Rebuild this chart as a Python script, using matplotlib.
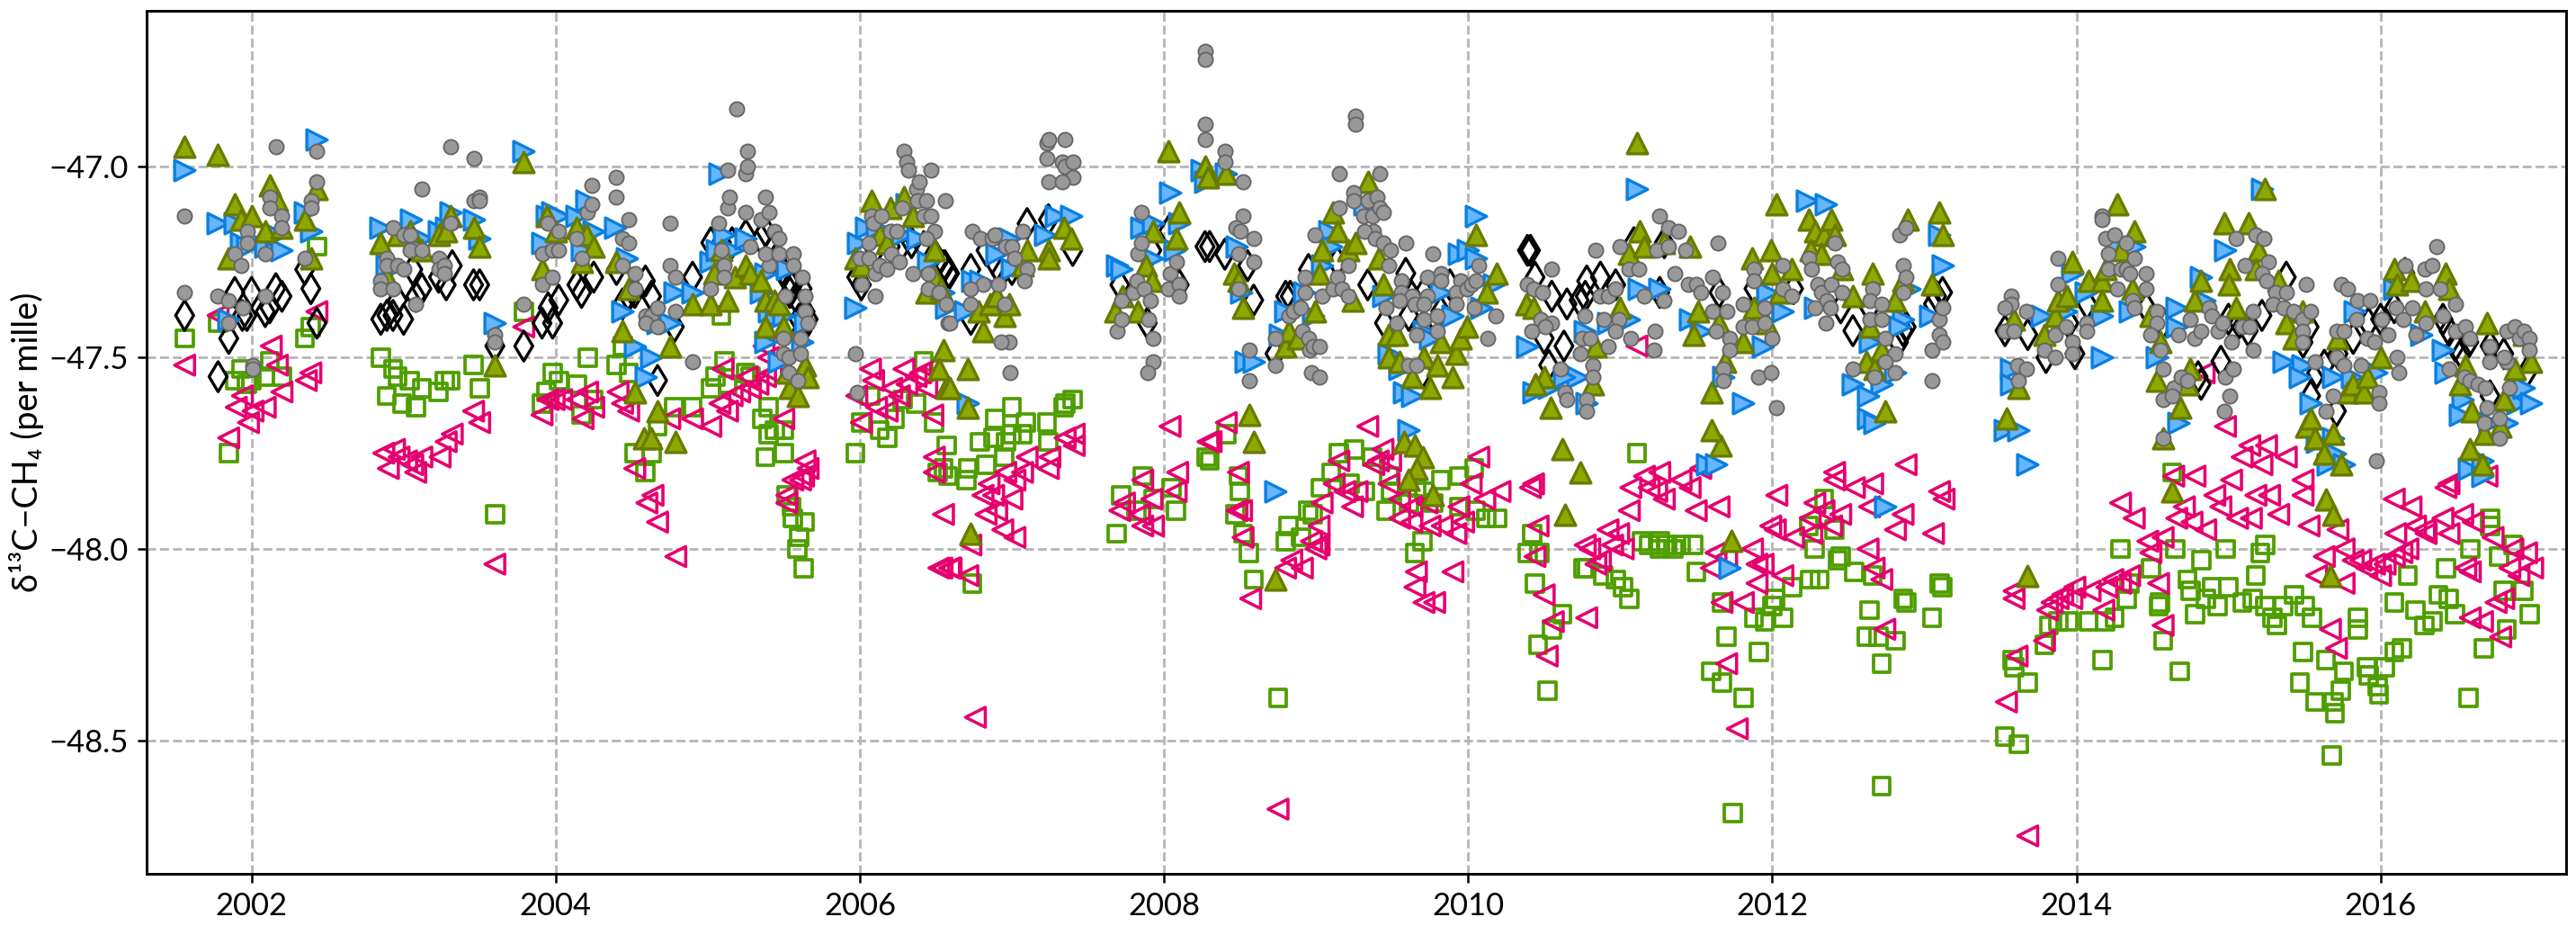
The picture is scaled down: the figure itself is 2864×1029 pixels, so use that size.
import matplotlib
matplotlib.use("Agg")
import matplotlib.pyplot as plt

# (decimal year, delta13C per mille)
green_squares = [
(2001.56,-47.45),(2001.78,-47.41),(2001.85,-47.75),(2001.93,-47.53),(2001.89,-47.56),(2001.97,-47.57),(2002.0,-47.56),(2002.09,-47.55),(2002.12,-47.51),(2002.2,-47.55),(2002.35,-47.45),(2002.39,-47.42),(2002.43,-47.21),
(2002.85,-47.50),(2002.93,-47.53),(2002.96,-47.55),(2002.89,-47.60),(2002.99,-47.62),(2003.04,-47.56),(2003.08,-47.63),(2003.12,-47.58),(2003.23,-47.59),(2003.27,-47.56),(2003.31,-47.56),(2003.46,-47.52),(2003.50,-47.58),(2003.6,-47.91),(2003.79,-47.38),
(2003.91,-47.62),(2003.94,-47.59),(2003.98,-47.54),(2004.02,-47.56),(2004.14,-47.57),(2004.17,-47.65),(2004.25,-47.61),(2004.21,-47.50),(2004.4,-47.52),(2004.44,-47.47),(2004.48,-47.54),(2004.52,-47.75),(2004.63,-47.75),(2004.59,-47.80),(2004.67,-47.68),(2004.78,-47.63),(2004.9,-47.63),(2005.02,-47.58),(2005.09,-47.39),(2005.11,-47.51),(2005.05,-47.55),(2005.13,-47.57),(2005.25,-47.54),(2005.28,-47.55),(2005.36,-47.66),(2005.4,-47.63),(2005.4,-47.70),(2005.44,-47.69),(2005.5,-47.69),(2005.38,-47.76),(2005.5,-47.75),(2005.52,-47.86),(2005.55,-47.89),(2005.56,-47.92),(2005.64,-47.93),(2005.6,-47.97),(2005.59,-48.0),(2005.63,-48.05),
(2005.97,-47.75),(2006.01,-47.67),(2006.07,-47.60),(2006.13,-47.69),(2006.18,-47.71),(2006.23,-47.66),(2006.28,-47.61),(2006.37,-47.62),(2006.42,-47.51),(2006.49,-47.67),(2006.57,-47.73),(2006.55,-47.79),(2006.51,-47.8),(2006.58,-47.81),(2006.71,-47.79),(2006.7,-47.82),(2006.83,-47.78),(2006.74,-48.09),(2006.79,-47.72),(2006.88,-47.71),(2006.89,-47.66),(2007.0,-47.63),(2006.96,-47.72),(2006.95,-47.76),(2007.0,-47.70),(2007.07,-47.70),(2007.09,-47.67),(2007.23,-47.67),(2007.24,-47.72),(2007.34,-47.63),(2007.35,-47.62),(2007.4,-47.61),
(2007.72,-47.86),(2007.69,-47.96),(2007.82,-47.90),(2007.86,-47.81),(2007.93,-47.87),(2008.05,-47.84),(2008.08,-47.90),(2008.28,-47.76),(2008.3,-47.77),(2008.41,-47.70),(2008.49,-47.81),(2008.5,-47.85),(2008.47,-47.91),(2008.52,-47.96),(2008.56,-48.01),(2008.59,-48.08),(2008.75,-48.39),(2008.82,-47.94),(2008.8,-47.98),(2008.9,-47.97),(2008.95,-47.90),(2008.98,-47.91),(2009.03,-47.84),(2009.15,-47.75),(2009.1,-47.80),(2009.25,-47.74),(2009.22,-47.83),(2009.32,-47.85),(2009.37,-47.76),(2009.48,-47.81),(2009.49,-47.85),(2009.46,-47.90),(2009.61,-47.88),(2009.66,-47.84),(2009.71,-47.85),(2009.82,-47.82),(2009.7,-47.98),(2009.65,-48.01),(2009.77,-47.88),(2009.94,-47.81),(2009.94,-47.89),(2010.04,-47.79),(2010.12,-47.92),(2010.19,-47.92),(2010.05,-47.9),
(2010.42,-47.96),(2010.39,-48.01),(2010.47,-48.01),(2010.44,-48.09),(2010.62,-48.17),(2010.55,-48.21),(2010.52,-48.37),(2010.46,-48.25),(2010.76,-48.05),(2010.78,-48.05),(2010.89,-48.07),(2010.97,-48.08),(2011.02,-48.10),(2011.06,-48.13),(2011.11,-47.75),(2011.14,-47.98),(2011.19,-47.99),(2011.26,-47.98),(2011.26,-48.0),(2011.31,-47.99),(2011.40,-47.99),(2011.48,-47.99),(2011.5,-48.06),(2011.35,-48.0),
(2011.7,-48.23),(2011.67,-48.14),(2011.6,-48.32),(2011.67,-48.35),(2011.81,-48.39),(2011.88,-48.18),(2011.91,-48.27),(2011.95,-48.19),(2012.0,-48.15),(2012.07,-48.18),(2012.02,-48.13),(2012.13,-48.10),(2012.25,-48.08),(2012.31,-48.08),(2012.28,-48.0),(2012.24,-47.94),(2012.34,-47.87),(2012.41,-47.95),(2012.45,-48.02),(2012.43,-48.03),(2012.54,-48.06),(2012.66,-48.07),(2012.64,-48.16),(2012.62,-48.23),(2012.7,-48.23),(2012.81,-48.24),(2012.72,-48.30),(2012.72,-48.62),(2012.86,-48.13),(2012.88,-48.14),(2013.05,-48.18),(2013.1,-48.09),(2013.12,-48.10),(2011.74,-48.69),
(2013.58,-48.29),(2013.59,-48.31),(2013.53,-48.49),(2013.68,-48.35),(2013.62,-48.51),(2013.79,-48.25),(2013.82,-48.2),(2013.88,-48.19),(2013.95,-48.19),(2014.08,-48.19),(2014.19,-48.19),(2014.25,-48.18),(2014.17,-48.29),(2014.29,-48.0),(2014.33,-48.13),(2014.35,-48.09),(2014.49,-48.05),(2014.54,-48.15),(2014.55,-48.14),(2014.57,-48.24),(2014.63,-47.8),(2014.65,-48.0),(2014.68,-48.32),(2014.73,-48.08),(2014.75,-48.11),(2014.78,-48.17),(2014.82,-48.03),(2014.85,-48.13),(2014.89,-48.1),(2014.93,-48.15),(2014.98,-48.0),(2015.0,-48.1),(2015.09,-48.14),(2015.16,-48.13),(2015.18,-48.07),(2015.21,-48.01),(2015.24,-47.99),(2015.24,-48.15),(2015.29,-48.18),(2015.32,-48.20),(2015.36,-48.15),(2015.43,-48.12),(2015.5,-48.15),(2015.55,-48.18),(2015.49,-48.27),(2015.47,-48.35),(2015.57,-48.4),(2015.69,-48.4),(2015.7,-48.43),(2015.64,-48.29),(2015.68,-48.54),(2015.76,-48.32),(2015.74,-48.37),(2015.85,-48.18),(2015.85,-48.21),(2015.91,-48.31),(2015.92,-48.33),(2015.98,-48.36),(2015.99,-48.38),(2016.03,-48.31),(2016.09,-48.27),(2016.14,-48.26),(2016.09,-48.14),(2016.18,-48.07),(2016.23,-48.16),(2016.29,-48.2),(2016.34,-48.19),(2016.38,-48.12),(2016.43,-48.05),(2016.45,-48.13),(2016.49,-48.17),(2016.58,-48.39),(2016.59,-48.0),(2016.68,-48.26),(2016.72,-47.92),(2016.72,-47.94),(2016.78,-48.02),(2016.81,-48.11),(2016.87,-47.99),(2016.83,-48.21),(2016.94,-48.11),(2016.98,-48.17),
]

pink_triangles = [
(2001.56,-47.52),(2001.78,-47.39),(2001.85,-47.71),(2001.94,-47.60),(2001.9,-47.63),(2001.98,-47.67),(2002.01,-47.64),(2002.09,-47.63),(2002.13,-47.47),(2002.17,-47.52),(2002.2,-47.59),(2002.36,-47.56),(2002.39,-47.54),(2002.43,-47.38),
(2002.87,-47.75),(2002.9,-47.79),(2002.94,-47.74),(2002.97,-47.76),(2003.02,-47.77),(2003.08,-47.80),(2003.06,-47.78),(2003.12,-47.76),(2003.24,-47.76),(2003.28,-47.72),(2003.32,-47.70),(2003.46,-47.64),(2003.5,-47.67),(2003.6,-48.04),(2003.79,-47.42),
(2003.91,-47.65),(2003.95,-47.61),(2003.99,-47.61),(2004.04,-47.61),(2004.14,-47.61),(2004.21,-47.59),(2004.18,-47.66),(2004.25,-47.63),(2004.41,-47.59),(2004.44,-47.62),(2004.48,-47.64),(2004.52,-47.79),(2004.64,-47.86),(2004.6,-47.88),(2004.67,-47.93),(2004.75,-47.66),(2004.79,-48.02),(2004.9,-47.66),(2005.02,-47.68),(2005.1,-47.53),(2005.08,-47.62),(2005.13,-47.64),(2005.16,-47.6),(2005.21,-47.59),(2005.26,-47.55),(2005.28,-47.58),(2005.33,-47.57),(2005.38,-47.55),(2005.42,-47.54),(2005.37,-47.47),(2005.4,-47.5),(2005.5,-47.66),(2005.52,-47.86),(2005.52,-47.88),(2005.56,-47.82),(2005.61,-47.82),(2005.64,-47.77),(2005.66,-47.79),(2005.63,-47.81),
(2005.98,-47.6),(2006.01,-47.67),(2006.07,-47.53),(2006.09,-47.56),(2006.11,-47.63),(2006.18,-47.64),(2006.21,-47.58),(2006.26,-47.6),(2006.29,-47.53),(2006.31,-47.57),(2006.37,-47.55),(2006.4,-47.54),(2006.44,-47.58),(2006.48,-47.65),(2006.45,-47.53),(2006.49,-47.76),(2006.49,-47.80),(2006.55,-47.91),(2006.52,-48.05),(2006.59,-48.05),
(2006.73,-47.99),(2006.54,-48.05),(2006.6,-48.05),(2006.71,-48.07),(2006.76,-48.44),(2006.85,-47.83),(2006.81,-47.86),(2006.88,-47.86),(2006.83,-47.91),(2006.9,-47.9),(2007.0,-47.87),(2006.96,-47.8),(2007.07,-47.8),(2007.02,-47.82),(2007.1,-47.76),(2007.25,-47.76),(2007.24,-47.79),(2006.94,-47.95),(2007.02,-47.97),(2007.35,-47.71),(2007.41,-47.73),(2007.41,-47.7),
(2007.71,-47.9),(2007.74,-47.88),(2007.86,-47.82),(2007.84,-47.91),(2007.86,-47.94),(2007.92,-47.87),(2007.93,-47.94),(2008.09,-47.8),(2008.08,-47.85),(2008.04,-47.68),(2008.29,-47.72),(2008.31,-47.72),(2008.41,-47.67),(2008.49,-47.8),(2008.48,-47.9),(2008.51,-47.9),(2008.52,-47.97),(2008.57,-48.13),(2008.8,-48.05),(2008.75,-48.68),(2008.84,-48.03),(2008.91,-48.05),(2008.97,-47.98),(2009.02,-47.99),(2009.02,-47.94),(2009.0,-48.0),(2009.04,-47.88),(2009.12,-47.83),(2009.15,-47.77),(2009.19,-47.85),(2009.24,-47.89),(2009.27,-47.85),(2009.34,-47.68),(2009.38,-47.78),(2009.44,-47.74),(2009.41,-47.77),(2009.49,-47.77),(2009.48,-47.83),(2009.55,-47.87),(2009.55,-47.92),(2009.63,-47.89),(2009.63,-47.93),(2009.66,-48.06),(2009.65,-48.1),(2009.71,-48.14),(2009.78,-48.14),(2009.73,-47.88),(2009.75,-47.94),(2009.83,-47.94),(2009.9,-48.06),(2009.92,-47.96),(2009.97,-47.93),(2009.94,-47.89),(2010.02,-47.83),(2010.07,-47.76),(2010.11,-47.87),(2010.21,-47.85),
(2010.41,-47.84),(2010.43,-47.83),(2010.46,-47.94),(2010.44,-48.02),(2010.5,-48.12),(2010.56,-48.19),(2010.52,-48.28),(2010.78,-48.18),(2010.77,-47.99),(2010.8,-48.0),(2010.84,-48.04),(2010.87,-48.03),(2010.92,-47.95),(2010.99,-47.96),(2010.95,-47.99),(2011.02,-48.0),(2011.11,-47.47),(2011.07,-47.84),(2011.06,-47.9),(2011.16,-47.81),(2011.19,-47.84),(2011.24,-47.85),(2011.26,-47.8),(2011.29,-47.87),(2011.4,-47.82),(2011.46,-47.84),(2011.5,-47.9),(2011.53,-47.79),
(2011.65,-47.89),(2011.63,-48.01),(2011.67,-48.14),(2011.6,-48.05),(2011.81,-48.14),(2011.7,-48.02),(2011.87,-48.0),(2011.9,-48.04),(2011.94,-48.04),(2011.9,-48.09),(2012.07,-48.07),(2012.03,-47.86),(2011.99,-47.94),(2012.02,-47.95),(2012.14,-47.97),(2012.26,-47.96),(2012.28,-47.88),(2012.25,-47.92),(2012.34,-47.9),(2012.39,-47.94),(2012.45,-47.91),(2012.41,-47.8),(2012.41,-47.82),(2012.54,-47.84),(2012.66,-47.83),(2012.64,-47.89),(2012.63,-48.0),(2012.67,-48.05),(2012.72,-48.08),(2012.74,-48.21),(2012.81,-47.95),(2012.86,-47.91),(2012.88,-47.78),(2013.06,-47.96),(2013.1,-47.85),(2013.13,-47.87),(2011.77,-48.47),(2011.7,-48.3),
(2013.54,-48.4),(2013.61,-48.28),(2013.59,-48.11),(2013.59,-48.13),(2013.68,-48.75),(2013.79,-48.24),(2013.81,-48.16),(2013.84,-48.14),(2013.88,-48.13),(2013.91,-48.12),(2013.97,-48.13),(2013.99,-48.1),(2014.09,-48.11),(2014.2,-48.1),(2014.18,-48.16),(2014.24,-48.08),(2014.29,-48.09),(2014.35,-48.07),(2014.29,-47.88),(2014.38,-47.92),(2014.47,-47.98),(2014.57,-47.97),(2014.49,-48.01),(2014.54,-48.09),(2014.57,-48.2),(2014.64,-47.81),(2014.66,-47.92),(2014.71,-47.89),(2014.78,-47.81),(2014.76,-47.93),(2014.85,-47.95),(2014.91,-47.86),(2014.95,-47.89),(2015.02,-47.82),(2015.06,-47.92),(2015.15,-47.92),(2015.09,-47.76),(2015.14,-47.73),(2015.22,-47.78),(2015.25,-47.73),(2015.38,-47.76),(2015.49,-47.82),(2014.98,-47.68),(2014.84,-47.54),(2015.18,-47.86),(2015.27,-47.86),(2015.33,-47.91),(2015.49,-47.86),(2015.53,-47.94),(2015.72,-47.95),(2015.63,-48.02),(2015.58,-48.07),(2015.67,-48.21),(2015.71,-48.26),(2015.76,-48.09),(2015.76,-48.0),(2015.82,-48.03),(2015.87,-48.03),(2015.91,-48.05),(2015.96,-48.04),(2016.0,-48.07),(2016.03,-48.04),(2016.09,-48.02),(2016.14,-48.01),(2016.18,-48.0),(2016.09,-47.87),(2016.2,-47.89),(2016.1,-47.96),(2016.23,-47.94),(2016.29,-47.95),(2016.3,-47.96),(2016.45,-47.96),(2016.41,-47.92),(2016.54,-47.91),(2016.61,-47.93),(2016.43,-47.84),(2016.45,-47.83),(2016.7,-47.81),(2016.74,-47.97),(2016.56,-48.05),(2016.59,-48.06),(2016.87,-48.0),(2016.96,-48.01),(2017.0,-48.05),(2016.85,-48.05),(2016.91,-48.07),(2016.81,-48.13),(2016.76,-48.14),(2016.59,-48.18),(2016.67,-48.19),(2016.79,-48.23),
]

black_diamonds = [
(2001.56,-47.39),(2001.78,-47.55),(2001.85,-47.45),(2001.89,-47.33),(2001.94,-47.39),(2001.97,-47.39),(2002.0,-47.33),(2002.09,-47.38),(2002.12,-47.37),(2002.16,-47.32),(2002.2,-47.34),(2002.35,-47.27),(2002.39,-47.32),(2002.43,-47.41),
(2002.85,-47.4),(2002.89,-47.39),(2002.93,-47.39),(2002.96,-47.35),(2003.0,-47.4),(2003.06,-47.27),(2003.08,-47.34),(2003.12,-47.32),(2003.23,-47.29),(2003.28,-47.31),(2003.32,-47.26),(2003.46,-47.31),(2003.5,-47.31),(2003.6,-47.47),(2003.79,-47.47),
(2003.91,-47.41),(2003.95,-47.37),(2003.98,-47.41),(2004.02,-47.35),(2004.14,-47.31),(2004.17,-47.33),(2004.25,-47.29),(2004.4,-47.27),(2004.44,-47.36),(2004.48,-47.34),(2004.52,-47.33),(2004.59,-47.3),(2004.63,-47.34),(2004.67,-47.56),(2004.78,-47.42),(2004.9,-47.29),(2005.02,-47.2),(2005.09,-47.2),(2005.16,-47.2),(2005.25,-47.18),(2005.38,-47.17),(2005.35,-47.19),(2005.42,-47.22),(2005.45,-47.24),(2005.49,-47.27),(2005.53,-47.3),(2005.56,-47.31),(2005.59,-47.35),(2005.62,-47.32),(2005.64,-47.38),(2005.6,-47.4),(2005.66,-47.4),(2005.62,-47.43),(2005.54,-47.33),
(2005.98,-47.29),(2006.01,-47.31),(2006.1,-47.22),(2006.2,-47.21),(2006.27,-47.21),(2006.34,-47.2),(2006.42,-47.21),(2006.49,-47.23),(2006.55,-47.26),(2006.58,-47.28),(2006.56,-47.26),(2006.59,-47.28),(2006.73,-47.27),(2006.73,-47.4),(2006.83,-47.22),(2006.9,-47.26),(2006.93,-47.28),(2007.0,-47.27),(2007.1,-47.15),(2007.24,-47.14),(2007.4,-47.22),
(2007.71,-47.31),(2007.89,-47.41),(2007.92,-47.22),(2008.03,-47.17),(2008.1,-47.31),(2008.27,-47.21),(2008.3,-47.21),(2008.4,-47.23),(2008.55,-47.26),(2008.59,-47.35),(2008.73,-47.49),(2008.8,-47.34),(2008.83,-47.34),(2008.95,-47.27),(2009.14,-47.25),(2009.34,-47.31),(2009.45,-47.41),(2009.59,-47.28),(2009.61,-47.39),(2009.7,-47.54),(2009.71,-47.33),(2009.82,-47.38),(2009.88,-47.31),(2009.7,-47.42),(2009.63,-47.34),
(2010.41,-47.22),(2010.39,-47.22),(2010.44,-47.29),(2010.5,-47.45),(2010.55,-47.34),(2010.63,-47.47),(2010.65,-47.36),(2010.53,-47.52),(2010.73,-47.35),(2010.77,-47.34),(2010.78,-47.3),(2010.87,-47.29),(2010.97,-47.31),(2011.09,-47.2),(2011.29,-47.2),(2011.26,-47.33),
(2011.65,-47.33),(2011.88,-47.32),(2012.14,-47.32),(2012.45,-47.37),(2012.53,-47.43),(2012.64,-47.37),(2012.86,-47.43),(2012.83,-47.46),(2012.88,-47.42),(2013.12,-47.33),(2013.06,-47.36),(2013.08,-47.34),
(2013.53,-47.43),(2013.68,-47.44),(2013.8,-47.5),(2013.95,-47.41),(2013.99,-47.49),(2014.07,-47.36),(2014.46,-47.37),(2014.57,-47.41),(2014.82,-47.57),(2014.95,-47.51),(2014.8,-47.55),(2015.0,-47.4),(2015.07,-47.41),(2015.13,-47.43),(2015.22,-47.39),(2015.38,-47.29),(2015.49,-47.46),(2015.53,-47.42),(2015.54,-47.6),(2015.58,-47.54),(2015.71,-47.64),(2015.63,-47.52),(2015.72,-47.49),(2015.82,-47.45),(2015.92,-47.41),(2016.0,-47.4),(2016.09,-47.37),(2016.16,-47.28),(2016.41,-47.4),(2016.45,-47.43),(2016.49,-47.47),(2016.53,-47.49),(2016.58,-47.46),(2016.72,-47.47),(2016.81,-47.49),(2016.96,-47.54),(2016.72,-47.6),
]

blue_triangles = [
(2001.56,-47.01),(2001.78,-47.15),(2001.85,-47.4),(2001.89,-47.15),(2001.93,-47.2),(2001.97,-47.21),(2002.09,-47.21),(2002.16,-47.18),(2002.2,-47.22),(2002.35,-47.12),(2002.39,-47.17),(2002.43,-46.93),
(2002.85,-47.16),(2002.89,-47.26),(2002.96,-47.26),(2003.05,-47.14),(2003.12,-47.19),(2003.23,-47.17),(2003.28,-47.16),(2003.31,-47.12),(2003.46,-47.14),(2003.5,-47.19),(2003.6,-47.41),(2003.79,-46.96),
(2003.91,-47.2),(2003.94,-47.13),(2003.98,-47.12),(2004.02,-47.13),(2004.14,-47.13),(2004.17,-47.22),(2004.2,-47.09),(2004.25,-47.17),(2004.39,-47.16),(2004.47,-47.24),(2004.44,-47.38),(2004.52,-47.47),(2004.63,-47.5),(2004.59,-47.55),(2004.67,-47.41),(2004.75,-47.41),(2004.78,-47.33),(2004.9,-47.33),(2005.02,-47.25),(2005.08,-47.02),(2005.11,-47.18),(2005.06,-47.22),(2005.16,-47.22),(2005.25,-47.19),(2005.35,-47.33),(2005.4,-47.38),(2005.45,-47.39),(2005.5,-47.39),(2005.38,-47.46),(2005.64,-47.41),(2005.62,-47.46),(2005.47,-47.51),(2005.52,-47.27),(2005.38,-47.28),
(2005.97,-47.37),(2005.99,-47.2),(2006.04,-47.16),(2006.11,-47.16),(2006.28,-47.18),(2006.31,-47.1),(2006.38,-47.19),(2006.45,-47.25),(2006.57,-47.37),(2006.55,-47.33),(2006.74,-47.3),(2006.69,-47.38),(2006.79,-47.3),(2006.9,-47.23),(2006.98,-47.19),(2007.0,-47.27),(2007.22,-47.18),(2007.29,-47.13),(2007.39,-47.13),(2006.71,-47.62),
(2007.69,-47.26),(2007.72,-47.27),(2007.85,-47.16),(2007.93,-47.15),(2008.1,-47.15),(2008.04,-47.07),(2008.07,-47.22),(2007.92,-47.24),(2008.25,-47.01),(2008.27,-47.04),(2008.41,-47.02),(2008.48,-47.21),(2008.51,-47.33),(2008.54,-47.51),(2008.59,-47.51),(2008.73,-47.85),(2008.8,-47.38),(2008.76,-47.44),(2008.92,-47.33),(2008.98,-47.39),(2009.04,-47.26),(2009.09,-47.17),(2009.1,-47.21),(2009.32,-47.1),(2009.44,-47.34),(2009.48,-47.49),(2009.55,-47.53),(2009.61,-47.69),(2009.58,-47.59),(2009.63,-47.6),(2009.71,-47.43),(2009.75,-47.45),(2009.82,-47.33),(2009.9,-47.39),(2009.94,-47.23),(2010.0,-47.22),(2010.05,-47.13),(2010.05,-47.24),(2010.09,-47.37),(2010.17,-47.31),
(2010.39,-47.47),(2010.43,-47.59),(2010.53,-47.58),(2010.72,-47.55),(2010.63,-47.55),(2010.78,-47.62),(2011.11,-47.06),(2011.06,-47.4),(2010.77,-47.43),(2010.92,-47.41),(2011.12,-47.32),(2011.26,-47.32),(2011.46,-47.4),(2011.53,-47.43),(2011.57,-47.78),
(2011.63,-47.78),(2011.72,-48.05),(2011.81,-47.62),(2011.68,-47.55),(2011.94,-47.47),(2012.07,-47.38),(2011.97,-47.33),(2012.23,-47.09),(2012.35,-47.1),(2012.28,-47.37),(2012.9,-47.32),(2013.1,-47.18),(2013.12,-47.26),(2013.04,-47.39),(2012.86,-47.4),(2012.84,-47.42),(2012.64,-47.46),(2012.81,-47.54),(2012.53,-47.57),(2012.72,-47.57),(2012.63,-47.6),(2012.63,-47.66),(2012.67,-47.67),(2012.74,-47.89),
(2013.57,-47.53),(2013.57,-47.57),(2013.53,-47.69),(2013.62,-47.69),(2013.68,-47.78),(2013.77,-47.39),(2013.93,-47.38),(2013.97,-47.28),(2014.06,-47.33),(2014.17,-47.5),(2014.17,-47.39),(2014.35,-47.38),(2014.38,-47.21),(2014.26,-47.21),(2014.66,-47.37),(2014.53,-47.5),(2014.67,-47.67),(2014.66,-47.42),(2014.84,-47.35),(2014.98,-47.22),(2014.82,-47.29),(2015.22,-47.06),(2015.36,-47.51),(2015.49,-47.52),(2015.47,-47.55),(2015.54,-47.62),(2015.58,-47.72),(2015.65,-47.78),(2015.69,-47.71),(2015.7,-47.75),(2015.76,-47.78),(2015.69,-47.55),(2015.83,-47.38),(2015.81,-47.55),(2015.97,-47.54),(2016.09,-47.32),(2016.27,-47.44),(2016.41,-47.48),(2016.43,-47.54),(2016.54,-47.61),(2016.52,-47.65),(2016.58,-47.79),(2016.67,-47.77),(2016.67,-47.81),(2016.72,-47.67),(2016.83,-47.67),(2016.9,-47.62),(2016.94,-47.58),(2016.99,-47.62),
]

olive_triangles = [
(2001.56,-46.95),(2001.78,-46.97),(2001.85,-47.24),(2001.89,-47.1),(2001.93,-47.14),(2002.0,-47.13),(2002.09,-47.17),(2002.12,-47.05),(2002.17,-47.09),(2002.2,-47.16),(2002.35,-47.14),(2002.39,-47.24),(2002.43,-47.06),
(2002.85,-47.2),(2002.89,-47.29),(2002.96,-47.18),(2003.04,-47.17),(2003.12,-47.22),(2003.23,-47.18),(2003.28,-47.17),(2003.31,-47.13),(2003.46,-47.16),(2003.5,-47.21),(2003.6,-47.52),(2003.79,-46.99),
(2003.91,-47.27),(2003.94,-47.13),(2004.0,-47.17),(2004.14,-47.16),(2004.17,-47.25),(2004.2,-47.18),(2004.25,-47.21),(2004.4,-47.25),(2004.44,-47.43),(2004.48,-47.32),(2004.52,-47.59),(2004.58,-47.71),(2004.63,-47.71),(2004.67,-47.64),(2004.75,-47.47),(2004.79,-47.72),(2004.9,-47.36),(2005.02,-47.36),(2005.13,-47.35),(2005.04,-47.28),(2005.09,-47.22),(2005.18,-47.29),(2005.25,-47.26),(2005.28,-47.28),(2005.35,-47.3),(2005.38,-47.35),(2005.44,-47.35),(2005.47,-47.36),(2005.38,-47.42),(2005.5,-47.42),(2005.54,-47.58),(2005.59,-47.6),(2005.64,-47.52),(2005.66,-47.55),(2005.52,-47.54),
(2005.97,-47.24),(2006.01,-47.26),(2006.08,-47.09),(2006.13,-47.18),(2006.18,-47.2),(2006.2,-47.11),(2006.29,-47.08),(2006.35,-47.13),(2006.49,-47.22),(2006.49,-47.29),(2006.57,-47.58),(2006.55,-47.48),(2006.52,-47.53),(2006.44,-47.33),(2006.53,-47.32),
(2006.71,-47.53),(2006.59,-47.58),(2006.71,-47.63),(2006.73,-47.96),(2006.81,-47.43),(2006.78,-47.38),(2006.86,-47.36),(2006.95,-47.39),(2006.98,-47.36),(2006.9,-47.34),(2007.07,-47.26),(2007.1,-47.22),(2007.24,-47.22),(2007.24,-47.24),(2007.34,-47.16),(2007.39,-47.19),
(2007.68,-47.38),(2007.73,-47.34),(2007.83,-47.38),(2007.88,-47.26),(2007.92,-47.3),(2007.93,-47.17),(2008.03,-46.96),(2008.08,-47.19),(2008.1,-47.12),(2008.27,-47.0),(2008.29,-47.03),(2008.41,-47.02),(2008.46,-47.28),(2008.49,-47.3),(2008.52,-47.37),(2008.56,-47.65),(2008.59,-47.72),(2008.73,-48.08),(2008.8,-47.47),(2008.82,-47.43),(2008.88,-47.45),(2008.99,-47.38),(2009.02,-47.28),(2009.04,-47.22),(2009.11,-47.12),(2009.14,-47.17),(2009.21,-47.22),(2009.24,-47.35),(2009.26,-47.2),(2009.34,-47.04),(2009.41,-47.24),(2009.44,-47.31),(2009.48,-47.44),(2009.53,-47.44),(2009.48,-47.5),(2009.55,-47.51),(2009.63,-47.55),(2009.71,-47.5),(2009.8,-47.52),(2009.75,-47.58),(2009.9,-47.55),(2009.92,-47.49),(2009.82,-47.46),(2009.95,-47.45),(2009.99,-47.42),(2010.12,-47.33),(2010.05,-47.18),(2010.19,-47.28),(2009.58,-47.72),(2009.65,-47.73),(2009.7,-47.76),(2009.66,-47.79),(2009.61,-47.82),(2009.77,-47.86),
(2010.38,-47.36),(2010.43,-47.37),(2010.5,-47.55),(2010.44,-47.57),(2010.54,-47.63),(2010.62,-47.74),(2010.74,-47.8),(2010.64,-47.91),(2011.11,-46.94),(2010.84,-47.47),(2010.82,-47.57),(2011.0,-47.37),(2011.13,-47.17),(2011.06,-47.23),(2011.16,-47.21),(2011.29,-47.2),(2011.51,-47.38),(2011.48,-47.44),(2011.46,-47.21),
(2011.6,-47.59),(2011.69,-47.51),(2011.81,-47.46),(2011.65,-47.41),(2011.88,-47.37),(2011.96,-47.41),(2011.87,-47.24),(2011.99,-47.22),(2012.0,-47.28),(2012.03,-47.1),(2012.13,-47.27),(2012.05,-47.33),(2012.24,-47.14),(2012.28,-47.17),(2012.34,-47.18),(2012.39,-47.14),(2012.41,-47.18),(2012.25,-47.22),(2012.32,-47.23),(2012.46,-47.27),(2012.53,-47.34),(2012.66,-47.28),(2012.64,-47.42),(2012.81,-47.35),(2012.86,-47.3),(2012.89,-47.14),(2013.05,-47.31),(2013.1,-47.12),(2013.12,-47.18),(2012.62,-47.51),(2012.67,-47.53),(2012.72,-47.48),(2012.74,-47.64),(2011.66,-47.73),(2011.6,-47.69),(2011.73,-47.98),
(2013.54,-47.66),(2013.62,-47.58),(2013.68,-48.07),(2013.59,-47.4),(2013.79,-47.44),(2013.86,-47.39),(2013.88,-47.35),(2013.94,-47.34),(2013.97,-47.25),(2014.08,-47.3),(2014.17,-47.3),(2014.19,-47.27),(2014.17,-47.35),(2014.27,-47.1),(2014.29,-47.22),(2014.38,-47.17),(2014.37,-47.32),(2014.49,-47.39),(2014.55,-47.46),(2014.53,-47.56),(2014.57,-47.71),(2014.68,-47.63),(2014.73,-47.57),(2014.75,-47.53),(2014.78,-47.35),(2014.82,-47.3),(2014.63,-47.85),(2014.97,-47.15),(2015.13,-47.15),(2015.24,-47.06),(2015.2,-47.22),(2015.01,-47.27),(2015.0,-47.31),(2015.05,-47.37),(2015.18,-47.27),(2015.33,-47.3),(2015.38,-47.41),(2015.43,-47.45),(2015.49,-47.38),(2015.51,-47.68),(2015.54,-47.66),(2015.57,-47.71),(2015.63,-47.75),(2015.69,-47.7),(2015.74,-47.78),(2015.64,-47.87),(2015.69,-47.91),(2015.67,-48.07),(2015.72,-47.45),(2015.78,-47.59),(2015.82,-47.57),(2015.89,-47.59),(2015.91,-47.55),(2016.0,-47.5),(2016.09,-47.27),(2016.11,-47.31),(2016.2,-47.3),(2016.29,-47.38),(2016.43,-47.28),(2016.45,-47.32),(2016.52,-47.57),(2016.56,-47.52),(2016.59,-47.74),(2016.6,-47.64),(2016.67,-47.78),(2016.7,-47.41),(2016.68,-47.7),(2016.79,-47.68),(2016.81,-47.61),(2016.88,-47.53),(2016.94,-47.44),(2016.99,-47.51),
]

gray_circles = [
(2001.56,-47.13),(2001.56,-47.33),(2001.78,-47.34),(2001.85,-47.35),(2001.85,-47.41),(2001.89,-47.23),(2001.93,-47.26),(2001.94,-47.37),(2001.97,-47.17),(2001.97,-47.2),(2002.01,-47.52),(2002.01,-47.53),(2002.09,-47.34),(2002.09,-47.23),(2002.12,-47.08),(2002.12,-47.11),(2002.16,-46.95),(2002.2,-47.13),(2002.2,-47.16),(2002.35,-47.24),(2002.39,-47.09),(2002.39,-47.11),(2002.43,-46.96),(2002.43,-47.04),
(2002.85,-47.3),(2002.85,-47.32),(2002.89,-47.24),(2002.89,-47.26),(2002.93,-47.16),(2002.93,-47.32),(2002.96,-47.26),(2003.0,-47.18),(2003.0,-47.27),(2003.04,-47.18),(2003.04,-47.22),(2003.08,-47.36),(2003.12,-47.06),(2003.12,-47.22),(2003.23,-47.24),(2003.23,-47.27),(2003.27,-47.26),(2003.27,-47.28),(2003.31,-46.95),(2003.31,-47.15),(2003.46,-46.98),(2003.46,-47.09),(2003.5,-47.08),(2003.5,-47.09),(2003.6,-47.44),(2003.6,-47.46),(2003.79,-47.36),
(2003.91,-47.23),(2003.91,-47.31),(2003.95,-47.15),(2003.98,-47.22),(2003.98,-47.29),(2004.02,-47.17),(2004.02,-47.22),(2004.14,-47.19),(2004.17,-47.24),(2004.21,-47.12),(2004.24,-47.05),(2004.24,-47.1),(2004.4,-47.03),(2004.4,-47.08),(2004.44,-47.26),(2004.44,-47.19),(2004.48,-47.14),(2004.48,-47.2),(2004.52,-47.28),(2004.52,-47.32),(2004.59,-47.39),(2004.63,-47.39),(2004.59,-47.41),(2004.67,-47.37),(2004.67,-47.42),(2004.75,-47.15),(2004.75,-47.26),(2004.79,-47.29),(2004.79,-47.38),(2004.9,-47.51),(2005.02,-47.32),(2005.07,-47.15),(2005.09,-47.22),(2005.11,-47.26),(2005.11,-47.29),(2005.13,-47.01),(2005.13,-47.11),(2005.14,-47.08),(2005.19,-46.85),(2005.25,-47.02),(2005.25,-47.12),(2005.26,-46.96),(2005.26,-47.0),(2005.28,-47.21),(2005.35,-47.14),(2005.38,-47.08),(2005.4,-47.12),(2005.4,-47.26),(2005.38,-47.23),(2005.44,-47.17),(2005.47,-47.19),(2005.47,-47.23),(2005.51,-47.34),(2005.5,-47.45),(2005.5,-47.49),(2005.53,-47.5),(2005.56,-47.23),(2005.56,-47.26),(2005.53,-47.54),(2005.59,-47.56),(2005.61,-47.45),(2005.61,-47.49),(2005.62,-47.29),(2005.64,-47.34),(2005.64,-47.38),(2005.66,-47.41),
(2005.97,-47.49),(2005.98,-47.59),(2006.0,-47.24),(2006.01,-47.31),(2006.06,-47.2),(2006.06,-47.24),(2006.08,-47.13),(2006.09,-47.15),(2006.1,-47.28),(2006.1,-47.34),(2006.13,-47.26),(2006.14,-47.13),(2006.18,-47.27),(2006.2,-47.17),(2006.21,-47.23),(2006.24,-47.17),(2006.26,-47.25),(2006.29,-46.96),(2006.31,-46.99),(2006.32,-47.01),(2006.28,-47.11),(2006.35,-47.28),(2006.37,-47.06),(2006.39,-47.04),(2006.38,-47.09),(2006.44,-47.09),(2006.42,-47.13),(2006.47,-47.13),(2006.47,-47.01),(2006.49,-47.17),(2006.44,-47.19),(2006.45,-47.28),(2006.45,-47.32),(2006.52,-47.33),(2006.56,-47.09),(2006.57,-47.36),(2006.58,-47.41),
(2006.59,-47.41),(2006.74,-47.17),(2006.79,-47.19),(2006.73,-47.36),(2006.87,-47.19),(2006.89,-47.18),(2006.81,-47.31),(2006.91,-47.31),(2006.73,-47.32),(2006.95,-47.36),(2006.96,-47.21),(2007.0,-47.21),(2007.02,-47.24),(2007.07,-47.17),(2007.1,-47.27),(2007.08,-47.3),(2006.98,-47.46),(2006.93,-47.46),(2006.99,-47.54),(2007.23,-46.94),(2007.24,-46.93),(2007.23,-46.98),(2007.24,-47.04),(2007.33,-46.99),(2007.35,-47.0),(2007.35,-46.93),(2007.4,-46.99),(2007.4,-47.03),(2007.33,-47.04),
(2007.69,-47.43),(2007.72,-47.35),(2007.72,-47.4),(2007.8,-47.33),(2007.82,-47.3),(2007.83,-47.23),(2007.85,-47.12),(2007.85,-47.2),(2007.87,-47.32),(2007.9,-47.4),(2007.91,-47.35),(2007.93,-47.45),(2007.93,-47.51),(2007.89,-47.54),(2008.04,-47.28),(2008.03,-47.32),(2008.08,-47.25),(2008.1,-47.31),(2008.1,-47.34),(2008.27,-46.70),(2008.27,-46.72),(2008.27,-46.89),(2008.27,-46.93),(2008.4,-46.96),(2008.4,-46.99),(2008.52,-47.04),(2008.52,-47.13),(2008.47,-47.16),(2008.5,-47.17),(2008.59,-47.19),(2008.49,-47.23),(2008.59,-47.25),(2008.49,-47.32),(2008.56,-47.48),(2008.56,-47.56),(2008.73,-47.45),(2008.73,-47.52),(2008.82,-47.39),(2008.85,-47.38),(2008.91,-47.43),(2008.9,-47.37),(2008.95,-47.45),(2008.96,-47.48),(2008.98,-47.47),(2009.02,-47.47),(2008.97,-47.54),(2009.02,-47.55),(2008.93,-47.29),(2008.93,-47.33),(2008.99,-47.18),(2009.04,-47.34),(2009.11,-47.32),(2009.14,-47.29),(2009.17,-47.32),(2009.21,-47.34),(2009.15,-47.02),(2009.15,-47.11),(2009.21,-47.26),(2009.25,-47.07),(2009.25,-47.09),(2009.26,-46.87),(2009.26,-46.89),(2009.31,-47.13),(2009.34,-47.09),(2009.37,-47.13),(2009.4,-47.08),(2009.42,-47.11),(2009.42,-47.02),(2009.44,-47.12),(2009.38,-47.17),(2009.32,-47.17),(2009.39,-47.19),(2009.44,-47.2),(2009.49,-47.22),(2009.48,-47.26),(2009.59,-47.2),(2009.56,-47.3),(2009.56,-47.33),(2009.63,-47.34),(2009.46,-47.37),(2009.55,-47.35),(2009.53,-47.41),(2009.65,-47.36),(2009.66,-47.44),(2009.73,-47.29),(2009.73,-47.34),(2009.71,-47.36),(2009.71,-47.4),(2009.8,-47.39),(2009.8,-47.43),(2009.77,-47.23),(2009.82,-47.28),(2009.82,-47.3),(2009.95,-47.3),(2009.92,-47.33),(2009.92,-47.36),(2009.99,-47.32),(2010.02,-47.31),(2010.04,-47.37),(2010.05,-47.3),(2010.07,-47.26),(2010.13,-47.45),(2010.18,-47.39),(2009.61,-47.52),(2009.66,-47.52),
(2010.39,-47.31),(2010.43,-47.32),(2010.49,-47.33),(2010.55,-47.27),(2010.48,-47.4),(2010.55,-47.41),(2010.51,-47.42),(2010.42,-47.43),(2010.84,-47.22),(2010.61,-47.53),(2010.64,-47.59),(2010.65,-47.61),(2010.74,-47.49),(2010.77,-47.39),(2010.75,-47.45),(2010.8,-47.45),(2010.82,-47.52),(2010.82,-47.55),(2010.78,-47.61),(2010.78,-47.64),(2010.87,-47.34),(2010.89,-47.4),(2010.92,-47.47),(2010.92,-47.34),(2010.97,-47.32),(2010.99,-47.4),(2010.97,-47.43),(2011.0,-47.21),(2011.06,-47.27),(2011.07,-47.45),(2011.12,-47.27),(2011.16,-47.34),(2011.23,-47.43),(2011.22,-47.48),(2011.26,-47.13),(2011.32,-47.16),(2011.38,-47.17),(2011.43,-47.22),(2011.24,-47.22),(2011.32,-47.21),(2011.29,-47.35),(2011.36,-47.28),(2011.45,-47.31),(2011.5,-47.31),(2011.53,-47.33),
(2011.64,-47.2),(2011.61,-47.29),(2011.67,-47.33),(2011.61,-47.38),(2011.7,-47.38),(2011.63,-47.43),(2011.72,-47.45),(2011.72,-47.48),(2011.68,-47.53),(2011.68,-47.56),(2011.81,-47.36),(2011.81,-47.42),(2011.87,-47.42),(2011.88,-47.27),(2011.88,-47.3),(2011.91,-47.55),(2011.95,-47.37),(2011.95,-47.41),(2011.99,-47.54),(2012.0,-47.45),(2012.03,-47.63),(2012.07,-47.26),(2012.07,-47.32),(2012.13,-47.34),(2012.24,-47.24),(2012.26,-47.27),(2012.3,-47.31),(2012.32,-47.33),(2012.36,-47.35),(2012.35,-47.41),(2012.38,-47.37),(2012.39,-47.31),(2012.41,-47.2),(2012.43,-47.25),(2012.46,-47.27),(2012.46,-47.33),(2012.28,-47.37),(2012.66,-47.32),(2012.64,-47.35),(2012.64,-47.4),(2012.72,-47.36),(2012.72,-47.4),(2012.74,-47.45),(2012.81,-47.49),(2012.84,-47.18),(2012.88,-47.16),(2012.86,-47.26),(2012.88,-47.29),(2012.86,-47.33),(2012.53,-47.53),(2012.67,-47.55),(2012.74,-47.51),(2012.81,-47.54),(2013.05,-47.48),(2013.05,-47.56),(2013.1,-47.4),(2013.12,-47.37),(2013.1,-47.44),(2013.12,-47.46),
(2013.57,-47.34),(2013.57,-47.36),(2013.53,-47.37),(2013.53,-47.43),(2013.59,-47.43),(2013.61,-47.52),(2013.67,-47.53),(2013.62,-47.56),(2013.67,-47.38),(2013.79,-47.48),(2013.86,-47.5),(2013.86,-47.44),(2013.88,-47.31),(2013.88,-47.24),(2013.93,-47.42),(2013.97,-47.46),(2013.97,-47.49),(2014.07,-47.41),(2014.07,-47.43),(2014.17,-47.13),(2014.17,-47.14),(2014.19,-47.19),(2014.21,-47.23),(2014.21,-47.27),(2014.25,-47.18),(2014.27,-47.32),(2014.29,-47.27),(2014.33,-47.2),(2014.33,-47.27),(2014.38,-47.24),(2014.35,-47.28),(2014.46,-47.28),(2014.46,-47.32),(2014.37,-47.35),(2014.38,-47.37),(2014.53,-47.38),(2014.53,-47.41),(2014.49,-47.44),(2014.55,-47.48),(2014.57,-47.53),(2014.67,-47.44),(2014.64,-47.58),(2014.57,-47.61),(2014.63,-47.6),(2014.69,-47.55),(2014.73,-47.56),(2014.75,-47.4),(2014.78,-47.45),(2014.82,-47.43),(2014.87,-47.37),(2014.89,-47.39),(2014.93,-47.43),(2014.96,-47.41),(2015.02,-47.46),(2014.98,-47.55),(2015.03,-47.53),(2015.01,-47.6),(2014.97,-47.64),(2014.57,-47.71),(2015.09,-47.42),(2015.11,-47.26),(2015.16,-47.48),(2015.14,-47.42),(2015.16,-47.38),(2015.18,-47.18),(2015.23,-47.19),(2015.05,-47.19),(2015.26,-47.25),(2015.22,-47.28),(2015.25,-47.3),(2015.31,-47.33),(2015.38,-47.33),(2015.29,-47.36),(2015.36,-47.37),(2015.43,-47.38),(2015.51,-47.31),(2015.49,-47.4),(2015.54,-47.38),(2015.49,-47.43),(2015.49,-47.46),(2015.57,-47.51),(2015.64,-47.64),(2015.69,-47.6),(2015.71,-47.5),(2015.71,-47.43),(2015.76,-47.43),(2015.74,-47.31),(2015.78,-47.32),(2015.85,-47.35),(2015.93,-47.35),(2015.84,-47.4),(2015.76,-47.52),(2015.87,-47.52),(2015.91,-47.45),(2015.96,-47.46),(2015.99,-47.59),(2015.99,-47.62),(2015.97,-47.77),(2016.12,-47.54),(2016.11,-47.5),(2016.01,-47.4),(2016.1,-47.37),(2016.05,-47.44),(2016.16,-47.26),(2016.15,-47.4),(2016.21,-47.37),(2016.23,-47.44),(2016.29,-47.27),(2016.34,-47.26),(2016.37,-47.21),(2016.3,-47.32),(2016.3,-47.41),(2016.39,-47.32),(2016.41,-47.39),(2016.49,-47.36),(2016.45,-47.53),(2016.49,-47.43),(2016.56,-47.42),(2016.59,-47.45),(2016.55,-47.55),(2016.59,-47.56),(2016.64,-47.57),(2016.69,-47.58),(2016.7,-47.63),(2016.68,-47.67),(2016.78,-47.66),(2016.78,-47.71),(2016.72,-47.47),(2016.72,-47.51),(2016.83,-47.43),(2016.83,-47.51),(2016.85,-47.58),(2016.88,-47.42),(2016.91,-47.45),(2016.94,-47.43),(2016.98,-47.45),(2016.98,-47.48),(2016.81,-47.5),
]

x_ticks = [2002, 2004, 2006, 2008, 2010, 2012, 2014, 2016]
y_ticks = [-47.0, -47.5, -48.0, -48.5]
y_label = "δ¹³C−CH₄ (per mille)"

plt.rcParams['font.family'] = ['Lato', 'DejaVu Sans']
W, H = 2864, 1029
fig = plt.figure(figsize=(W/300, H/300), dpi=300)
ax = fig.add_axes([163/W, 1-971/H, (2853-163)/W, (971-12)/H])

def draw(points, **kw):
    xs, ys = zip(*points)
    ax.scatter(xs, ys, **kw)

draw(green_squares, marker='s', s=20, facecolors='none', edgecolors='#4f9e00', linewidths=0.9, zorder=3)
draw(pink_triangles, marker='<', s=28, facecolors='none', edgecolors='#e6006e', linewidths=0.85, zorder=4)
draw(black_diamonds, marker='d', s=32, facecolors='none', edgecolors='black', linewidths=0.8, zorder=5)
draw(blue_triangles, marker='>', s=30, facecolors='#66b5ff', edgecolors='#0a7fe0', linewidths=0.8, zorder=6)
draw(olive_triangles, marker='^', s=30, facecolors='#8da800', edgecolors='#6a7a00', linewidths=0.8, zorder=7)
draw(gray_circles, marker='o', s=15, facecolors='#999999', edgecolors='#666666', linewidths=0.45, zorder=8)

ax.set_xlim(2001.31, 2017.22)
ax.set_ylim(-48.849, -46.594)
ax.set_xticks(x_ticks)
ax.set_yticks(y_ticks)
ax.set_yticklabels([f"\u2212{abs(v):.1f}" for v in y_ticks])
ax.tick_params(labelsize=8.3, width=0.6, length=2.4, pad=2.4)
ax.grid(True, color='#b4b4b4', linestyle='--', linewidth=0.65, zorder=0)
ax.set_axisbelow(True)
for s in ax.spines.values():
    s.set_linewidth(0.7)
ax.set_ylabel(y_label, fontsize=9.1)
ax.yaxis.set_label_coords((49-163)/(2853-163), 0.5)
fig.savefig('out.png', dpi=300)
